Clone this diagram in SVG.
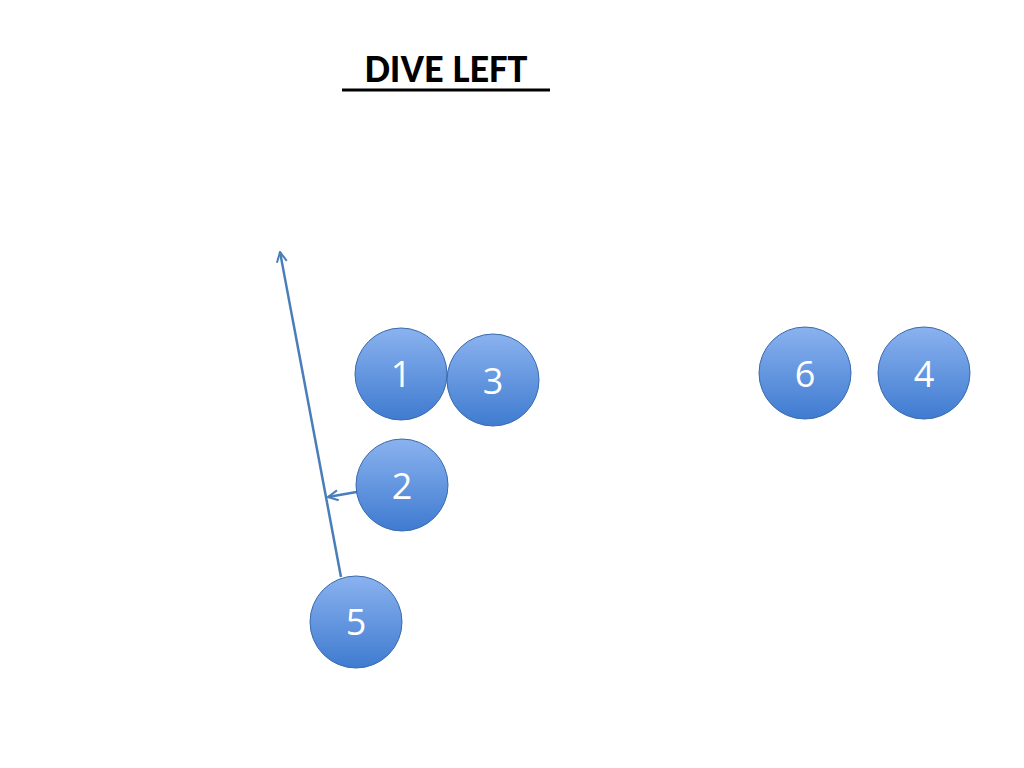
<svg xmlns="http://www.w3.org/2000/svg" width="1024" height="768" viewBox="0 0 1024 768">
<style>
.n{stroke:#3a6bab;stroke-width:1}
.t{font-family:"Open Sans","Liberation Sans",sans-serif;font-size:36px;fill:#fff;text-anchor:middle}
.c{stroke:#4a7ebb;stroke-width:2.5;fill:none;marker-end:url(#a)}
</style>
<defs>
<linearGradient id="g" x1="0" y1="0" x2="0" y2="1"><stop offset="0" stop-color="#8ab2ef"/><stop offset="1" stop-color="#3f7bd0"/></linearGradient>
<marker id="a" viewBox="0 0 10 10" refX="9" refY="5" markerWidth="5" markerHeight="5" orient="auto"><path d="M1,1 L9,5 L1,9" fill="none" stroke="#4a7ebb" stroke-width="1.6"/></marker>
</defs>
<rect width="1024" height="768" fill="#fff"/>
<text x="446" y="82" font-family="Calibri,'Open Sans','Liberation Sans',sans-serif" font-size="40" font-weight="bold" text-anchor="middle" fill="#000">DIVE LEFT</text>
<line x1="342" y1="90" x2="550" y2="90" stroke="#000" stroke-width="3"/>
<g id="connectors">
<line class="c" x1="341" y1="577" x2="280" y2="252"/>
<line class="c" x1="385" y1="487" x2="328" y2="497"/>
</g>
<g id="n1"><circle class="n" cx="401" cy="374" r="46" fill="url(#g)"/><text class="t" x="401" y="387">1</text></g>
<g id="n3"><circle class="n" cx="493" cy="380" r="46" fill="url(#g)"/><text class="t" x="493" y="394">3</text></g>
<g id="n2"><circle class="n" cx="402" cy="485" r="46" fill="url(#g)"/><text class="t" x="402" y="499">2</text></g>
<g id="n5"><circle class="n" cx="356" cy="622" r="46" fill="url(#g)"/><text class="t" x="356" y="635">5</text></g>
<g id="n6"><circle class="n" cx="805" cy="373" r="46" fill="url(#g)"/><text class="t" x="805" y="387">6</text></g>
<g id="n4"><circle class="n" cx="924" cy="373" r="46" fill="url(#g)"/><text class="t" x="924" y="387">4</text></g>
</svg>
